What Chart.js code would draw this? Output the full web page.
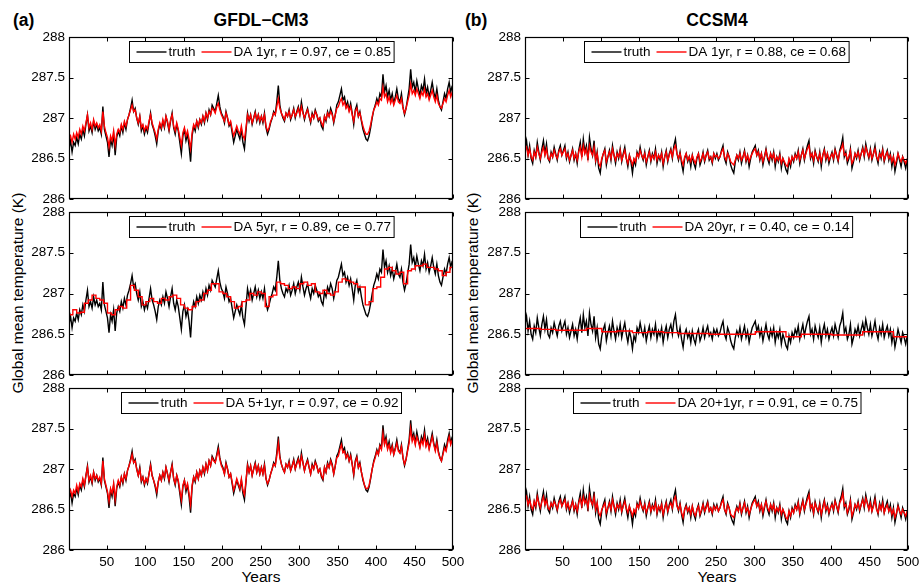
<!DOCTYPE html>
<html lang="en">
<head>
<meta charset="UTF-8">
<title>Global mean temperature: truth vs DA</title>
<script src="https://cdn.jsdelivr.net/npm/chart.js"></script>
<style>
  body { margin: 0; background: #fff; font-family: 'Liberation Sans', Arial, sans-serif; }
  #fig { position: relative; width: 919px; height: 584px; overflow: hidden; background: #fff; }
  #fig canvas { position: absolute; }
  .txt { position: absolute; color: #000; white-space: nowrap; }
  .tag, .title { font-weight: bold; font-size: 17.5px; line-height: 18px; }
  .title { width: 240px; text-align: center; }
  .axt { font-size: 15.5px; line-height: 18px; width: 240px; text-align: center; }
  .ylab { transform: rotate(-90deg); }
</style>
</head>
<body>
<div id="fig">
  <div class="txt tag" style="left:13px; top:11px;">(a)</div>
  <div class="txt title" style="left:141px; top:11px;">GFDL−CM3</div>
  <div class="txt tag" style="left:465px; top:11px;">(b)</div>
  <div class="txt title" style="left:597px; top:11px;">CCSM4</div>
  <div class="txt axt ylab" style="left:-102px; top:284px;">Global mean temperature (K)</div>
  <div class="txt axt ylab" style="left:353px; top:284px;">Global mean temperature (K)</div>
  <div class="txt axt" style="left:141px; top:568px;">Years</div>
  <div class="txt axt" style="left:597px; top:568px;">Years</div>

  <canvas id="a1" width="466" height="182" style="left:0; top:27px;"></canvas>
  <canvas id="a2" width="466" height="183" style="left:0; top:202px;"></canvas>
  <canvas id="a3" width="466" height="206" style="left:0; top:378px;"></canvas>
  <canvas id="b1" width="453" height="182" style="left:466px; top:27px;"></canvas>
  <canvas id="b2" width="453" height="183" style="left:466px; top:202px;"></canvas>
  <canvas id="b3" width="453" height="206" style="left:466px; top:378px;"></canvas>
</div>

<script>
// axis ticks
const xTicks = [50, 100, 150, 200, 250, 300, 350, 400, 450, 500];
const yTicks = [286, 286.5, 287, 287.5, 288];

// GFDL-CM3, sampled every 2 years (1, 3, ..., 499)
const gfdlTruth = [
  286.62, 286.72, 286.58, 286.70, 286.66, 286.76, 286.68, 286.80, 286.74, 286.86, 286.78, 286.92, 287.04, 286.84, 286.90, 286.82, 286.96, 286.86, 286.92, 286.84, 286.88, 286.80, 287.14, 286.86, 286.78,
  286.70, 286.52, 286.74, 286.66, 286.80, 286.54, 286.76, 286.84, 286.78, 286.90, 286.82, 286.94, 286.86, 286.98, 287.04, 287.12, 287.22, 287.08, 287.12, 287.00, 286.92, 287.02, 286.84, 286.90, 286.80,
  286.88, 286.82, 286.94, 287.06, 286.92, 286.86, 286.78, 286.68, 286.84, 286.92, 286.86, 286.96, 286.88, 287.02, 286.94, 286.84, 286.96, 287.06, 286.88, 286.80, 286.92, 286.84, 286.70, 286.56, 286.78,
  286.86, 286.72, 286.80, 286.66, 286.46, 286.78, 286.90, 286.84, 286.96, 286.88, 286.98, 286.92, 287.02, 286.94, 287.06, 286.98, 287.10, 287.04, 287.16, 287.12, 287.08, 287.18, 287.28, 287.14, 287.06,
  287.02, 286.94, 287.08, 287.00, 286.90, 286.94, 286.82, 286.70, 286.78, 286.86, 286.80, 286.74, 286.86, 286.70, 286.62, 286.84, 287.06, 286.96, 287.04, 286.92, 287.00, 287.08, 286.96, 287.04, 286.94,
  287.02, 286.94, 287.06, 286.88, 286.80, 286.86, 286.94, 287.00, 287.08, 287.04, 287.20, 287.40, 287.16, 287.06, 287.00, 286.96, 287.06, 287.02, 287.10, 286.98, 287.04, 287.12, 287.00, 287.08, 287.14,
  287.04, 287.20, 287.08, 286.98, 287.06, 287.12, 287.02, 286.94, 287.06, 287.00, 287.10, 287.04, 286.96, 287.00, 286.90, 286.86, 287.02, 286.96, 287.08, 287.02, 287.12, 287.06, 286.94, 287.04, 287.16,
  287.20, 287.28, 287.36, 287.22, 287.26, 287.14, 287.20, 287.10, 287.18, 287.06, 286.92, 287.10, 287.16, 287.02, 287.08, 286.96, 286.86, 286.80, 286.74, 286.72, 286.78, 286.88, 287.00, 287.10, 287.16,
  287.24, 287.18, 287.30, 287.26, 287.54, 287.32, 287.40, 287.26, 287.34, 287.22, 287.30, 287.18, 287.26, 287.36, 287.24, 287.20, 287.30, 287.14, 287.04, 287.12, 287.24, 287.36, 287.60, 287.38, 287.44,
  287.32, 287.46, 287.36, 287.28, 287.40, 287.34, 287.48, 287.30, 287.38, 287.26, 287.34, 287.44, 287.32, 287.24, 287.36, 287.22, 287.14, 287.10, 287.20, 287.30, 287.24, 287.36, 287.44, 287.32, 287.40
];
const gfdlDA1 = [
  286.74, 286.78, 286.70, 286.80, 286.74, 286.82, 286.76, 286.86, 286.80, 286.90, 286.84, 286.94, 287.04, 286.88, 286.94, 286.86, 286.98, 286.90, 286.94, 286.88, 286.92, 286.84, 287.08, 286.90, 286.82,
  286.76, 286.64, 286.78, 286.72, 286.84, 286.66, 286.80, 286.86, 286.82, 286.92, 286.86, 286.96, 286.90, 286.98, 287.04, 287.10, 287.16, 287.08, 287.10, 287.00, 286.94, 287.02, 286.88, 286.92, 286.84,
  286.90, 286.86, 286.96, 287.04, 286.94, 286.88, 286.82, 286.74, 286.86, 286.94, 286.88, 286.98, 286.90, 287.02, 286.96, 286.86, 286.98, 287.04, 286.90, 286.84, 286.94, 286.86, 286.76, 286.66, 286.82,
  286.88, 286.78, 286.84, 286.74, 286.62, 286.82, 286.92, 286.88, 286.96, 286.90, 286.98, 286.94, 287.02, 286.96, 287.06, 287.00, 287.08, 287.04, 287.12, 287.10, 287.06, 287.14, 287.18, 287.10, 287.04,
  287.00, 286.96, 287.06, 287.00, 286.92, 286.96, 286.86, 286.78, 286.84, 286.90, 286.84, 286.80, 286.90, 286.78, 286.74, 286.88, 287.04, 286.98, 287.04, 286.94, 287.00, 287.06, 286.98, 287.04, 286.96,
  287.02, 286.96, 287.04, 286.90, 286.84, 286.88, 286.96, 287.00, 287.06, 287.04, 287.14, 287.24, 287.12, 287.06, 287.02, 286.98, 287.06, 287.02, 287.08, 287.00, 287.04, 287.10, 287.02, 287.06, 287.12,
  287.04, 287.14, 287.06, 287.00, 287.06, 287.10, 287.02, 286.96, 287.04, 287.00, 287.08, 287.04, 286.98, 287.00, 286.94, 286.90, 287.02, 286.98, 287.06, 287.02, 287.08, 287.04, 286.96, 287.04, 287.12,
  287.14, 287.20, 287.24, 287.16, 287.20, 287.12, 287.16, 287.08, 287.14, 287.04, 286.96, 287.08, 287.12, 287.02, 287.06, 286.98, 286.90, 286.84, 286.80, 286.80, 286.84, 286.92, 287.02, 287.10, 287.14,
  287.20, 287.16, 287.24, 287.22, 287.38, 287.26, 287.30, 287.20, 287.26, 287.18, 287.24, 287.16, 287.22, 287.28, 287.20, 287.18, 287.24, 287.12, 287.06, 287.12, 287.20, 287.28, 287.42, 287.30, 287.34,
  287.28, 287.36, 287.30, 287.24, 287.32, 287.28, 287.36, 287.26, 287.30, 287.22, 287.28, 287.34, 287.26, 287.20, 287.28, 287.18, 287.14, 287.12, 287.18, 287.24, 287.20, 287.28, 287.34, 287.26, 287.32
];
// 5-year blocks starting at years 1, 6, ..., 496
const gfdlDA5 = [
  286.74, 286.80, 286.76, 286.77, 286.88, 286.92, 286.98, 286.94, 286.92, 286.88,
  286.76, 286.74, 286.80, 286.84, 286.82, 286.92, 287.10, 287.04, 286.96, 286.86,
  286.90, 286.94, 286.90, 286.88, 286.94, 286.92, 286.96, 286.98, 286.94, 286.86,
  286.82, 286.80, 286.84, 286.90, 286.92, 287.00, 287.04, 287.12, 287.12, 287.02,
  287.00, 286.96, 286.90, 286.82, 286.84, 286.90, 286.92, 287.00, 286.98, 287.02,
  287.00, 286.84, 286.96, 286.98, 287.14, 287.12, 287.10, 287.06, 287.08, 287.06,
  287.12, 287.14, 287.10, 287.12, 287.02, 287.00, 287.04, 287.00, 286.98, 287.02,
  287.14, 287.18, 287.16, 287.14, 287.12, 287.08, 287.08, 286.86, 286.90, 287.06,
  287.08, 287.20, 287.30, 287.32, 287.28, 287.24, 287.26, 287.12, 287.28, 287.30,
  287.34, 287.34, 287.36, 287.32, 287.32, 287.30, 287.28, 287.22, 287.26, 287.32
];
const gfdlDA51 = [
  286.70, 286.74, 286.66, 286.74, 286.70, 286.80, 286.72, 286.82, 286.78, 286.88, 286.80, 286.92, 287.02, 286.86, 286.92, 286.84, 286.96, 286.88, 286.92, 286.86, 286.90, 286.82, 287.10, 286.88, 286.80,
  286.72, 286.60, 286.76, 286.70, 286.82, 286.62, 286.78, 286.86, 286.80, 286.90, 286.84, 286.94, 286.88, 286.98, 287.04, 287.10, 287.18, 287.08, 287.10, 287.00, 286.92, 287.00, 286.86, 286.90, 286.82,
  286.88, 286.84, 286.94, 287.04, 286.92, 286.86, 286.80, 286.72, 286.84, 286.92, 286.86, 286.96, 286.90, 287.02, 286.94, 286.86, 286.96, 287.04, 286.88, 286.82, 286.92, 286.86, 286.74, 286.62, 286.80,
  286.86, 286.76, 286.82, 286.70, 286.56, 286.80, 286.90, 286.86, 286.96, 286.88, 286.98, 286.92, 287.02, 286.96, 287.06, 286.98, 287.10, 287.04, 287.14, 287.10, 287.08, 287.16, 287.24, 287.12, 287.04,
  287.00, 286.94, 287.06, 287.00, 286.90, 286.94, 286.84, 286.74, 286.80, 286.88, 286.82, 286.76, 286.88, 286.74, 286.68, 286.86, 287.04, 286.96, 287.04, 286.92, 287.00, 287.06, 286.96, 287.04, 286.94,
  287.02, 286.94, 287.04, 286.88, 286.82, 286.86, 286.94, 287.00, 287.06, 287.04, 287.16, 287.32, 287.14, 287.06, 287.00, 286.96, 287.06, 287.02, 287.08, 286.98, 287.04, 287.10, 287.00, 287.06, 287.12,
  287.04, 287.16, 287.08, 286.98, 287.06, 287.10, 287.02, 286.94, 287.04, 287.00, 287.08, 287.04, 286.96, 287.00, 286.92, 286.88, 287.02, 286.96, 287.06, 287.02, 287.10, 287.04, 286.94, 287.04, 287.14,
  287.16, 287.24, 287.30, 287.20, 287.22, 287.14, 287.18, 287.10, 287.16, 287.06, 286.94, 287.08, 287.14, 287.02, 287.06, 286.96, 286.88, 286.80, 286.76, 286.76, 286.80, 286.90, 287.00, 287.08, 287.14,
  287.22, 287.18, 287.28, 287.24, 287.44, 287.30, 287.36, 287.24, 287.30, 287.20, 287.28, 287.18, 287.24, 287.32, 287.22, 287.20, 287.28, 287.14, 287.06, 287.12, 287.22, 287.32, 287.50, 287.34, 287.40,
  287.30, 287.40, 287.34, 287.26, 287.36, 287.30, 287.42, 287.28, 287.34, 287.24, 287.32, 287.40, 287.30, 287.22, 287.32, 287.20, 287.14, 287.10, 287.18, 287.26, 287.22, 287.32, 287.40, 287.30, 287.36
];

// CCSM4, sampled every 2 years
const ccsmTruth = [
  286.62, 286.72, 286.54, 286.66, 286.50, 286.44, 286.60, 286.52, 286.70, 286.58, 286.48, 286.62, 286.72, 286.56, 286.68, 286.50, 286.46, 286.58, 286.52, 286.64, 286.56, 286.48, 286.60, 286.66, 286.54,
  286.60, 286.66, 286.50, 286.58, 286.46, 286.54, 286.62, 286.48, 286.56, 286.44, 286.60, 286.70, 286.52, 286.74, 286.58, 286.66, 286.48, 286.76, 286.62, 286.54, 286.72, 286.46, 286.58, 286.38, 286.32,
  286.48, 286.56, 286.62, 286.42, 286.52, 286.60, 286.48, 286.66, 286.54, 286.44, 286.58, 286.50, 286.62, 286.46, 286.56, 286.64, 286.50, 286.40, 286.54, 286.46, 286.32, 286.48, 286.42, 286.58, 286.52,
  286.64, 286.54, 286.48, 286.58, 286.42, 286.52, 286.60, 286.46, 286.56, 286.50, 286.62, 286.44, 286.54, 286.48, 286.58, 286.40, 286.52, 286.60, 286.46, 286.56, 286.62, 286.50, 286.66, 286.74, 286.56,
  286.48, 286.58, 286.44, 286.34, 286.50, 286.56, 286.46, 286.52, 286.40, 286.54, 286.44, 286.38, 286.50, 286.56, 286.42, 286.48, 286.58, 286.46, 286.54, 286.60, 286.48, 286.52, 286.44, 286.56, 286.50,
  286.56, 286.48, 286.52, 286.60, 286.66, 286.50, 286.44, 286.58, 286.52, 286.42, 286.36, 286.32, 286.46, 286.54, 286.48, 286.58, 286.44, 286.52, 286.60, 286.46, 286.54, 286.40, 286.50, 286.58, 286.62,
  286.66, 286.54, 286.60, 286.48, 286.56, 286.42, 286.52, 286.62, 286.50, 286.44, 286.56, 286.48, 286.58, 286.40, 286.52, 286.46, 286.56, 286.38, 286.50, 286.44, 286.36, 286.32, 286.48, 286.40, 286.52,
  286.46, 286.56, 286.50, 286.60, 286.44, 286.54, 286.62, 286.48, 286.58, 286.66, 286.72, 286.50, 286.56, 286.44, 286.60, 286.52, 286.46, 286.58, 286.40, 286.54, 286.62, 286.48, 286.56, 286.44, 286.52,
  286.58, 286.48, 286.62, 286.54, 286.46, 286.60, 286.66, 286.76, 286.52, 286.58, 286.44, 286.50, 286.62, 286.38, 286.46, 286.56, 286.50, 286.60, 286.48, 286.56, 286.64, 286.52, 286.68, 286.58, 286.50,
  286.62, 286.48, 286.56, 286.66, 286.52, 286.44, 286.58, 286.50, 286.62, 286.46, 286.54, 286.60, 286.48, 286.56, 286.40, 286.52, 286.34, 286.44, 286.56, 286.48, 286.40, 286.52, 286.46, 286.38, 286.48
];
const ccsmDA1 = [
  286.60, 286.64, 286.54, 286.62, 286.52, 286.48, 286.58, 286.52, 286.64, 286.56, 286.50, 286.58, 286.64, 286.54, 286.62, 286.50, 286.48, 286.56, 286.52, 286.60, 286.54, 286.50, 286.58, 286.62, 286.54,
  286.58, 286.62, 286.52, 286.56, 286.48, 286.54, 286.60, 286.50, 286.56, 286.48, 286.58, 286.64, 286.52, 286.66, 286.56, 286.62, 286.50, 286.66, 286.58, 286.54, 286.64, 286.48, 286.56, 286.44, 286.40,
  286.50, 286.56, 286.60, 286.46, 286.52, 286.58, 286.50, 286.62, 286.54, 286.48, 286.56, 286.52, 286.60, 286.48, 286.54, 286.60, 286.50, 286.44, 286.54, 286.48, 286.42, 286.50, 286.46, 286.56, 286.52,
  286.60, 286.54, 286.50, 286.56, 286.46, 286.52, 286.58, 286.48, 286.54, 286.50, 286.58, 286.48, 286.54, 286.50, 286.56, 286.44, 286.52, 286.58, 286.48, 286.54, 286.60, 286.52, 286.62, 286.66, 286.56,
  286.50, 286.56, 286.48, 286.42, 286.52, 286.56, 286.48, 286.52, 286.46, 286.54, 286.48, 286.44, 286.52, 286.56, 286.46, 286.50, 286.56, 286.48, 286.54, 286.58, 286.50, 286.52, 286.46, 286.56, 286.52,
  286.54, 286.50, 286.52, 286.58, 286.62, 286.52, 286.48, 286.56, 286.52, 286.46, 286.44, 286.42, 286.48, 286.54, 286.50, 286.56, 286.48, 286.52, 286.58, 286.48, 286.54, 286.46, 286.52, 286.56, 286.60,
  286.62, 286.54, 286.58, 286.50, 286.56, 286.46, 286.52, 286.60, 286.52, 286.48, 286.56, 286.50, 286.56, 286.46, 286.52, 286.48, 286.54, 286.44, 286.50, 286.46, 286.42, 286.40, 286.50, 286.44, 286.52,
  286.48, 286.54, 286.50, 286.58, 286.48, 286.54, 286.60, 286.50, 286.56, 286.62, 286.66, 286.52, 286.56, 286.48, 286.58, 286.52, 286.48, 286.56, 286.46, 286.54, 286.60, 286.50, 286.56, 286.48, 286.52,
  286.56, 286.50, 286.60, 286.54, 286.48, 286.58, 286.62, 286.68, 286.54, 286.56, 286.48, 286.52, 286.60, 286.44, 286.48, 286.56, 286.52, 286.58, 286.50, 286.56, 286.62, 286.54, 286.64, 286.58, 286.52,
  286.60, 286.50, 286.56, 286.62, 286.52, 286.48, 286.56, 286.52, 286.60, 286.48, 286.54, 286.58, 286.50, 286.54, 286.46, 286.52, 286.42, 286.48, 286.56, 286.50, 286.46, 286.52, 286.48, 286.44, 286.50
];
// 20-year blocks starting at years 1, 21, ..., 481
const ccsmDA20 = [
  286.57, 286.56, 286.55, 286.55, 286.57, 286.53, 286.54, 286.52, 286.53, 286.52, 286.51, 286.51, 286.50,
  286.50, 286.50, 286.53, 286.53, 286.47, 286.50, 286.50, 286.49, 286.49, 286.53, 286.53, 286.47
];
const ccsmDA201 = [
  286.62, 286.66, 286.56, 286.62, 286.54, 286.50, 286.60, 286.54, 286.66, 286.58, 286.52, 286.60, 286.66, 286.56, 286.62, 286.52, 286.50, 286.58, 286.54, 286.60, 286.56, 286.50, 286.58, 286.62, 286.54,
  286.58, 286.62, 286.52, 286.58, 286.50, 286.54, 286.60, 286.50, 286.56, 286.48, 286.58, 286.64, 286.54, 286.66, 286.58, 286.62, 286.52, 286.68, 286.60, 286.56, 286.66, 286.50, 286.58, 286.46, 286.42,
  286.50, 286.54, 286.58, 286.46, 286.52, 286.58, 286.50, 286.62, 286.54, 286.48, 286.56, 286.52, 286.58, 286.48, 286.54, 286.60, 286.52, 286.46, 286.54, 286.48, 286.42, 286.50, 286.46, 286.56, 286.52,
  286.60, 286.54, 286.50, 286.56, 286.46, 286.52, 286.58, 286.48, 286.54, 286.50, 286.58, 286.46, 286.54, 286.50, 286.56, 286.44, 286.52, 286.58, 286.48, 286.54, 286.58, 286.52, 286.62, 286.66, 286.54,
  286.50, 286.56, 286.46, 286.40, 286.50, 286.54, 286.48, 286.52, 286.44, 286.54, 286.46, 286.42, 286.50, 286.54, 286.44, 286.50, 286.56, 286.48, 286.52, 286.58, 286.48, 286.52, 286.46, 286.54, 286.50,
  286.54, 286.48, 286.52, 286.58, 286.62, 286.50, 286.46, 286.56, 286.52, 286.44, 286.42, 286.40, 286.48, 286.52, 286.48, 286.56, 286.46, 286.52, 286.58, 286.48, 286.52, 286.44, 286.50, 286.56, 286.60,
  286.62, 286.54, 286.58, 286.50, 286.56, 286.46, 286.54, 286.60, 286.52, 286.48, 286.56, 286.50, 286.56, 286.46, 286.52, 286.48, 286.54, 286.44, 286.50, 286.46, 286.40, 286.38, 286.48, 286.42, 286.50,
  286.46, 286.54, 286.50, 286.58, 286.46, 286.52, 286.60, 286.50, 286.56, 286.62, 286.68, 286.52, 286.56, 286.46, 286.58, 286.52, 286.48, 286.56, 286.44, 286.52, 286.60, 286.50, 286.54, 286.46, 286.52,
  286.56, 286.50, 286.60, 286.54, 286.48, 286.58, 286.62, 286.70, 286.54, 286.56, 286.46, 286.52, 286.60, 286.42, 286.48, 286.56, 286.52, 286.58, 286.50, 286.56, 286.62, 286.54, 286.64, 286.58, 286.50,
  286.58, 286.48, 286.54, 286.62, 286.50, 286.46, 286.56, 286.50, 286.58, 286.46, 286.52, 286.56, 286.48, 286.52, 286.44, 286.50, 286.40, 286.46, 286.54, 286.48, 286.44, 286.50, 286.46, 286.42, 286.48
];

const FONT = "'Liberation Sans', Arial, sans-serif";

// annual series: one point every 2 years
function everyTwo(vals) {
  return vals.map((v, i) => ({ x: 1 + 2 * i, y: v }));
}
// block means drawn as steps, last block held to year 500
function blocks(vals, len) {
  const pts = vals.map((v, i) => ({ x: 1 + len * i, y: v }));
  pts.push({ x: 500, y: vals[vals.length - 1] });
  return pts;
}

// box round the axes, ticks pointing inward on all four sides
const frame = {
  id: 'frame',
  afterDatasetsDraw(chart) {
    const ctx = chart.ctx, a = chart.chartArea;
    const xs = chart.scales.x, ys = chart.scales.y;
    const L = Math.round(a.left) + 0.5, R = Math.round(a.right) - 0.5;
    const T = Math.round(a.top) + 0.5, B = Math.round(a.bottom) - 0.5;
    ctx.save();
    ctx.strokeStyle = '#000';
    ctx.lineWidth = 1;
    ctx.beginPath();
    xTicks.forEach(v => {
      const px = Math.round(xs.getPixelForValue(v)) + 0.5;
      ctx.moveTo(px, B); ctx.lineTo(px, B - 4);
      ctx.moveTo(px, T); ctx.lineTo(px, T + 4);
    });
    yTicks.forEach(v => {
      const py = Math.round(ys.getPixelForValue(v)) + 0.5;
      ctx.moveTo(L, py); ctx.lineTo(L + 4, py);
      ctx.moveTo(R, py); ctx.lineTo(R - 4, py);
    });
    ctx.stroke();
    ctx.lineWidth = 1.2;
    ctx.strokeRect(L, T, R - L, B - T);
    ctx.restore();
  }
};

// legend box drawn inside the axes, centred at the top
const boxLegend = {
  id: 'boxLegend',
  afterDraw(chart, args, opts) {
    const ctx = chart.ctx, a = chart.chartArea;
    ctx.save();
    ctx.font = '13.5px ' + FONT;
    const widths = opts.items.map(it => ctx.measureText(it.label).width);
    let w = 7 + 3 + 6 * (opts.items.length - 1);
    widths.forEach(tw => { w += 32 + tw; });
    const h = 21;
    const x0 = Math.round((a.left + a.right) / 2 - w / 2) + 0.5;
    const y0 = Math.round(a.top + 4) + 0.5;
    ctx.fillStyle = '#fff';
    ctx.fillRect(x0, y0, w, h);
    ctx.strokeStyle = '#000';
    ctx.lineWidth = 1;
    ctx.strokeRect(x0, y0, w, h);
    const yc = y0 + h / 2;
    let x = x0 + 7;
    opts.items.forEach((it, i) => {
      ctx.strokeStyle = it.color;
      ctx.lineWidth = 1.4;
      ctx.beginPath();
      ctx.moveTo(x, yc); ctx.lineTo(x + 30, yc);
      ctx.stroke();
      x += 32;
      ctx.fillStyle = '#000';
      ctx.textBaseline = 'middle';
      ctx.fillText(it.label, x, yc + 0.5);
      x += widths[i] + 6;
    });
    ctx.restore();
  }
};

function panel(id, col, bottom, truth, daPts, daLabel, stepped) {
  const yw = col === 0 ? 69 : 59;
  const padR = col === 0 ? 13 : 11;
  new Chart(document.getElementById(id), {
    type: 'line',
    data: {
      datasets: [
        { label: 'truth', data: everyTwo(truth), borderColor: '#000', borderWidth: 1.4, order: 2 },
        { label: daLabel, data: daPts, borderColor: '#ff0000', borderWidth: 1.4, order: 1, stepped: stepped ? 'before' : false }
      ]
    },
    options: {
      responsive: false,
      animation: false,
      events: [],
      elements: { point: { radius: 0 }, line: { tension: 0, fill: false } },
      layout: { padding: { left: 0, right: padR, top: 10, bottom: bottom ? 0 : 10 } },
      scales: {
        x: {
          type: 'linear', min: 1, max: 500,
          grid: { display: false, drawTicks: false }, border: { display: false },
          afterBuildTicks: s => { s.ticks = xTicks.map(v => ({ value: v })); },
          ticks: { display: bottom, color: '#000', padding: 4, maxRotation: 0, autoSkip: false, font: { family: FONT, size: 13.5 } },
          afterFit: s => { s.height = bottom ? 34 : 0; s.paddingLeft = 0; s.paddingRight = 0; }
        },
        y: {
          type: 'linear', min: 286, max: 288,
          grid: { display: false, drawTicks: false }, border: { display: false },
          afterBuildTicks: s => { s.ticks = yTicks.map(v => ({ value: v })); },
          ticks: { color: '#000', padding: 4, callback: v => String(v), font: { family: FONT, size: 13.5 } },
          afterFit: s => { s.width = yw; s.paddingTop = 0; s.paddingBottom = 0; }
        }
      },
      plugins: {
        legend: { display: false },
        tooltip: { enabled: false },
        boxLegend: { items: [{ label: 'truth', color: '#000' }, { label: daLabel, color: '#ff0000' }] }
      }
    },
    plugins: [frame, boxLegend]
  });
}

panel('a1', 0, false, gfdlTruth, everyTwo(gfdlDA1), 'DA 1yr, r = 0.97, ce = 0.85', false);
panel('a2', 0, false, gfdlTruth, blocks(gfdlDA5, 5), 'DA 5yr, r = 0.89, ce = 0.77', true);
panel('a3', 0, true, gfdlTruth, everyTwo(gfdlDA51), 'DA 5+1yr, r = 0.97, ce = 0.92', false);
panel('b1', 1, false, ccsmTruth, everyTwo(ccsmDA1), 'DA 1yr, r = 0.88, ce = 0.68', false);
panel('b2', 1, false, ccsmTruth, blocks(ccsmDA20, 20), 'DA 20yr, r = 0.40, ce = 0.14', true);
panel('b3', 1, true, ccsmTruth, everyTwo(ccsmDA201), 'DA 20+1yr, r = 0.91, ce = 0.75', false);
</script>
</body>
</html>
